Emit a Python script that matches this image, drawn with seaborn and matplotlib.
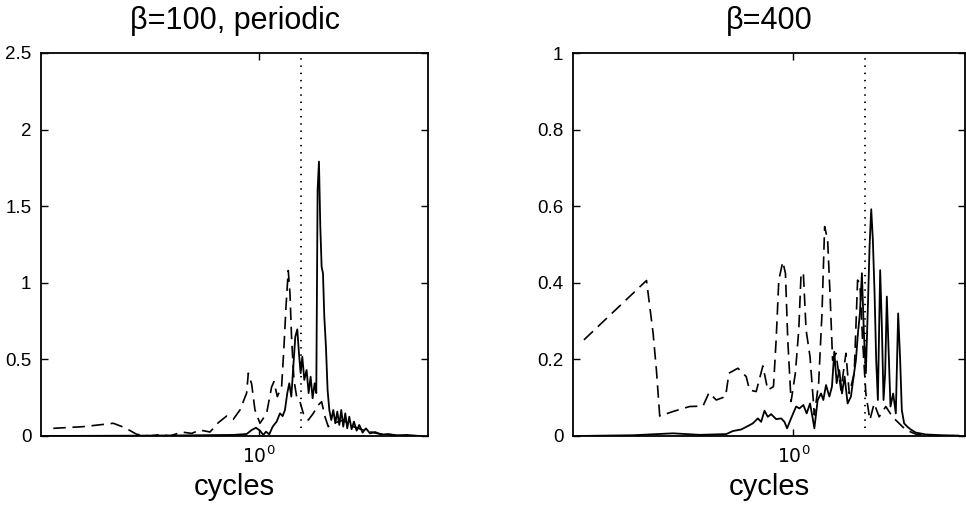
import numpy as np
import pandas as pd
import matplotlib
matplotlib.use("Agg")
import matplotlib.pyplot as plt
import seaborn as sns

# ---------------- data ----------------
titles = ["β=100, periodic", "β=400"]
xlabel = "cycles"

# beta=100 panel
b100_dash_x = [0.1139, 0.1565, 0.2149, 0.2431, 0.2751, 0.3167, 0.3521, 0.3915, 0.4428, 0.4921,
               0.5375, 0.5976, 0.6527, 0.7124, 0.7646, 0.8207, 0.8807, 0.8964, 0.9286, 0.9618,
               1.014, 1.088, 1.147, 1.176, 1.218, 1.275, 1.307, 1.335, 1.368, 1.393,
               1.418, 1.453, 1.495, 1.548, 1.604, 1.691, 1.783, 1.879, 1.947, 2.017,
               2.089, 2.203, 2.448, 2.722, 3.026, 3.483, 4.156, 5.134]
b100_dash_y = [0.050, 0.061, 0.083, 0.054, 0.011, 0.000, 0.009, 0.000, 0.026, 0.017,
               0.039, 0.026, 0.087, 0.130, 0.109, 0.170, 0.280, 0.410, 0.340, 0.170,
               0.083, 0.148, 0.320, 0.355, 0.257, 0.320, 0.580, 0.840, 1.080, 0.930,
               0.630, 0.365, 0.257, 0.224, 0.148, 0.104, 0.148, 0.202, 0.224, 0.126,
               0.061, 0.083, 0.104, 0.061, 0.039, 0.017, 0.004, 0.000]

b100_solid_x = [0.1025, 0.2655, 0.4506, 0.7646, 0.8807, 0.9286, 0.972, 1.014, 1.050, 1.081,
                1.119, 1.160, 1.210, 1.253, 1.289, 1.321, 1.354, 1.383, 1.413, 1.443,
                1.474, 1.505, 1.532, 1.559, 1.587, 1.621, 1.661, 1.697, 1.733, 1.770,
                1.808, 1.840, 1.866, 1.893, 1.920, 1.947, 1.975, 2.003, 2.038, 2.074,
                2.112, 2.157, 2.203, 2.250, 2.298, 2.347, 2.397, 2.448, 2.501, 2.554,
                2.609, 2.674, 2.741, 2.819, 2.900, 3.004, 3.112, 3.247, 3.423, 3.673,
                3.941, 4.305, 4.785, 5.510]
b100_solid_y = [0.000, 0.002, 0.004, 0.007, 0.013, 0.039, 0.054, 0.035, 0.007, 0.028,
                0.011, 0.061, 0.094, 0.148, 0.130, 0.170, 0.280, 0.344, 0.257, 0.453,
                0.648, 0.696, 0.540, 0.410, 0.518, 0.366, 0.431, 0.280, 0.387, 0.246,
                0.344, 0.280, 1.606, 1.791, 1.366, 1.105, 1.062, 0.779, 0.583, 0.300,
                0.170, 0.104, 0.170, 0.083, 0.159, 0.072, 0.170, 0.061, 0.148, 0.050,
                0.126, 0.044, 0.094, 0.035, 0.072, 0.022, 0.050, 0.017, 0.026, 0.009,
                0.013, 0.004, 0.007, 0.000]

# beta=400 panel
b400_dash_x = [0.1121, 0.2155, 0.2192, 0.2309, 0.2390, 0.2474, 0.2843, 0.3382, 0.3886, 0.4138,
               0.4467, 0.4922, 0.5096, 0.5598, 0.6105, 0.6320, 0.6775, 0.7264, 0.7648, 0.8116,
               0.8346, 0.8581, 0.8944, 0.9197, 0.9423, 0.9754, 1.020, 1.057, 1.083, 1.109,
               1.141, 1.189, 1.244, 1.301, 1.347, 1.385, 1.429, 1.465, 1.505, 1.559,
               1.642, 1.730, 1.791, 1.887, 1.954, 2.002, 2.058, 2.130, 2.222, 2.323,
               2.448, 2.624, 2.813, 3.015, 3.233, 3.587, 4.267]
b400_dash_y = [0.251, 0.406, 0.372, 0.268, 0.172, 0.052, 0.064, 0.077, 0.078, 0.113,
               0.094, 0.103, 0.164, 0.177, 0.155, 0.120, 0.116, 0.183, 0.120, 0.129,
               0.251, 0.407, 0.455, 0.425, 0.251, 0.090, 0.164, 0.277, 0.425, 0.425,
               0.277, 0.207, 0.055, 0.138, 0.320, 0.547, 0.512, 0.372, 0.198, 0.216,
               0.120, 0.216, 0.111, 0.164, 0.407, 0.399, 0.251, 0.111, 0.042, 0.085,
               0.050, 0.077, 0.050, 0.033, 0.016, 0.005, 0.001]

b400_solid_x = [0.1039, 0.1875, 0.2843, 0.3754, 0.4956, 0.5313, 0.5794, 0.6212, 0.6543, 0.6893,
                0.7137, 0.7390, 0.7648, 0.7922, 0.8346, 0.8790, 0.9101, 0.9358, 0.9754, 1.028,
                1.064, 1.109, 1.148, 1.189, 1.223, 1.244, 1.288, 1.334, 1.366, 1.405,
                1.455, 1.495, 1.532, 1.570, 1.614, 1.660, 1.706, 1.761, 1.823, 1.874,
                1.920, 1.961, 2.002, 2.044, 2.087, 2.130, 2.176, 2.214, 2.253, 2.292,
                2.333, 2.373, 2.415, 2.474, 2.518, 2.562, 2.606, 2.652, 2.698, 2.755,
                2.833, 2.913, 2.985, 3.048, 3.101, 3.177, 3.289, 3.405, 3.587, 3.981,
                4.734, 5.633]
b400_solid_y = [0.000, 0.002, 0.007, 0.003, 0.005, 0.013, 0.017, 0.026, 0.033, 0.046,
                0.037, 0.066, 0.050, 0.057, 0.044, 0.046, 0.037, 0.020, 0.046, 0.077,
                0.072, 0.081, 0.059, 0.085, 0.046, 0.020, 0.094, 0.111, 0.094, 0.133,
                0.103, 0.129, 0.220, 0.138, 0.172, 0.111, 0.155, 0.085, 0.103, 0.155,
                0.198, 0.268, 0.320, 0.425, 0.268, 0.164, 0.338, 0.494, 0.592, 0.512,
                0.372, 0.198, 0.094, 0.433, 0.285, 0.094, 0.164, 0.364, 0.233, 0.077,
                0.111, 0.059, 0.320, 0.198, 0.068, 0.033, 0.024, 0.017, 0.009, 0.004,
                0.002, 0.001]

marker_x = [1.565, 2.11]          # dotted reference lines
ylims = [2.5, 1.0]
yticks = [[0, 0.5, 1, 1.5, 2, 2.5], [0, 0.2, 0.4, 0.6, 0.8, 1]]
ytick_labels = [["0", "0.5", "1", "1.5", "2", "2.5"], ["0", "0.2", "0.4", "0.6", "0.8", "1"]]
xlim = [0.1, 6.0]

# ---------------- plotting ----------------
sns.set_theme(style="ticks")
plt.rcParams["font.family"] = ["Liberation Sans", "DejaVu Sans"]
plt.rcParams["text.color"] = "black"
plt.rcParams["axes.labelcolor"] = "black"

fig = plt.figure(figsize=(9.66, 5.08), dpi=100)
ax1 = fig.add_axes([41 / 966, 1 - 436 / 508, 387 / 966, 383 / 508])
ax2 = fig.add_axes([573 / 966, 1 - 436 / 508, 392 / 966, 383 / 508])

panels = [
    (ax1, b100_solid_x, b100_solid_y, b100_dash_x, b100_dash_y),
    (ax2, b400_solid_x, b400_solid_y, b400_dash_x, b400_dash_y),
]

for i, (ax, sx, sy, dx, dy) in enumerate(panels):
    df_s = pd.DataFrame({"x": sx, "y": sy})
    df_d = pd.DataFrame({"x": dx, "y": dy})
    sns.lineplot(data=df_d, x="x", y="y", ax=ax, color="black", lw=1.2,
                 estimator=None, sort=False)
    ax.lines[-1].set_linestyle((0, (7.5, 4)))
    sns.lineplot(data=df_s, x="x", y="y", ax=ax, color="black", lw=1.3,
                 estimator=None, sort=False)
    ax.axvline(marker_x[i], ymin=0.02, ymax=1, color="black", lw=1.3,
               linestyle=(0, (0.8, 3.2)))

    ax.set_xscale("log")
    ax.set_xlim(*xlim)
    ax.set_ylim(0, ylims[i])
    ax.set_xticks([1.0])
    ax.set_xticklabels([r"$10^{0}$"])
    ax.xaxis.set_minor_locator(matplotlib.ticker.NullLocator())
    ax.set_yticks(yticks[i])
    ax.set_yticklabels(ytick_labels[i])
    ax.tick_params(direction="in", length=5, width=1, top=True, right=True,
                   labelsize=13.5, colors="black", pad=7)
    for sp in ax.spines.values():
        sp.set_visible(True)
        sp.set_linewidth(1.3)
        sp.set_color("black")
    ax.set_xlabel(xlabel, fontsize=21, labelpad=4, color="black")
    ax.set_ylabel("")
    ax.set_title(titles[i], fontsize=22, pad=17, color="black")

for lab in ax1.get_xticklabels() + ax2.get_xticklabels():
    lab.set_fontfamily(["DejaVu Sans"])

fig.savefig("out.png", dpi=100)
